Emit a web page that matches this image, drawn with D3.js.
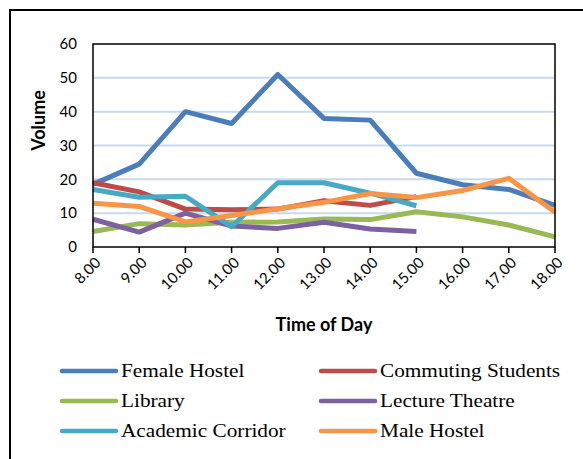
<!DOCTYPE html>
<html>
<head>
<meta charset="utf-8">
<script src="https://cdn.jsdelivr.net/npm/d3@7"></script>
<style>
  body { margin: 0; background: #fff; }
  svg { display: block; }
</style>
</head>
<body>
<div id="chart"></div>
<script>
const width = 583, height = 459;

const hours = ["8.00", "9.00", "10.00", "11.00", "12.00", "13.00", "14.00", "15.00", "16.00", "17.00", "18.00"];
const yTicks = [0, 10, 20, 30, 40, 50, 60];

const femaleHostel = [18.5, 24.5, 40, 36.5, 51, 38, 37.5, 21.8, 18.4, 17, 12.3];
const commuting = [19, 16.3, 11.2, 11, 11.2, 13.7, 12.3, 14.9];
const library = [4.6, 6.9, 6.5, 7.3, 7.4, 8.3, 8.1, 10.4, 8.9, 6.5, 3];
const lectureTheatre = [8.2, 4.4, 10, 6.2, 5.5, 7.3, 5.3, 4.6];
const academicCorridor = [17, 14.7, 15, 6, 19, 19, 15.9, 12.2];
const maleHostel = [12.9, 12, 7.4, 9.3, 11.3, 13.2, 15.8, 14.6, 16.7, 20.3, 10.3];

const series = [
  { name: "Female Hostel", values: femaleHostel, color: "#4a7ebb" },
  { name: "Commuting Students", values: commuting, color: "#be4b48" },
  { name: "Library", values: library, color: "#98b954" },
  { name: "Lecture Theatre", values: lectureTheatre, color: "#7d60a0" },
  { name: "Academic Corridor", values: academicCorridor, color: "#46aac5" },
  { name: "Male Hostel", values: maleHostel, color: "#f79646" }
];

const sans = "Lato, 'Open Sans', sans-serif";

const svg = d3.select("#chart")
  .append("svg")
  .attr("width", width)
  .attr("height", height);

// outer chart border (right and bottom run off the picture)
svg.append("path")
  .attr("d", "M10,470 L10,10 L600,10")
  .attr("fill", "none")
  .attr("stroke", "#000")
  .attr("stroke-width", 2);

const plot = { left: 93, right: 555, top: 44, bottom: 247 };

const x = d3.scalePoint()
  .domain(hours)
  .range([plot.left, plot.right]);

const y = d3.scaleLinear()
  .domain([0, 60])
  .range([plot.bottom, plot.top]);

// gridlines
svg.append("g")
  .selectAll("line")
  .data(yTicks.filter(d => d > 0 && d < 60))
  .join("line")
  .attr("x1", plot.left)
  .attr("x2", plot.right)
  .attr("y1", d => y(d))
  .attr("y2", d => y(d))
  .attr("stroke", "#c8daef")
  .attr("stroke-width", 2);

// lines
const line = d3.line()
  .x((d, i) => x(hours[i]))
  .y(d => y(d));

svg.append("g")
  .selectAll("path")
  .data(series)
  .join("path")
  .attr("d", d => line(d.values))
  .attr("fill", "none")
  .attr("stroke", d => d.color)
  .attr("stroke-width", 5)
  .attr("stroke-linejoin", "round");

// plot frame
svg.append("rect")
  .attr("x", plot.left)
  .attr("y", plot.top)
  .attr("width", plot.right - plot.left)
  .attr("height", plot.bottom - plot.top)
  .attr("fill", "none")
  .attr("stroke", "#000")
  .attr("stroke-width", 1.5);

// y axis labels
svg.append("g")
  .selectAll("text")
  .data(yTicks)
  .join("text")
  .attr("x", 77)
  .attr("y", d => y(d))
  .attr("dy", "0.35em")
  .attr("text-anchor", "end")
  .attr("font-family", sans)
  .attr("font-size", 15)
  .attr("fill", "#000")
  .text(d => d);

// x axis ticks
svg.append("g")
  .selectAll("line")
  .data(hours)
  .join("line")
  .attr("x1", d => x(d))
  .attr("x2", d => x(d))
  .attr("y1", plot.bottom)
  .attr("y2", plot.bottom + 6)
  .attr("stroke", "#000")
  .attr("stroke-width", 1.5);

svg.append("g")
  .selectAll("text")
  .data(hours)
  .join("text")
  .attr("transform", d => `translate(${x(d) + 5},${plot.bottom + 13}) rotate(-45)`)
  .attr("text-anchor", "end")
  .attr("dy", "0.35em")
  .attr("font-family", sans)
  .attr("font-size", 15)
  .attr("fill", "#000")
  .text(d => d);

// axis titles
svg.append("text")
  .attr("x", (plot.left + plot.right) / 2)
  .attr("y", 331)
  .attr("text-anchor", "middle")
  .attr("font-family", sans)
  .attr("font-weight", "bold")
  .attr("font-size", 18)
  .text("Time of Day");

svg.append("text")
  .attr("transform", `translate(45,${(plot.top + plot.bottom) / 2 - 25}) rotate(-90)`)
  .attr("text-anchor", "middle")
  .attr("font-family", sans)
  .attr("font-weight", "bold")
  .attr("font-size", 18)
  .text("Volume");

// legend
const legend = svg.append("g")
  .selectAll("g")
  .data(series)
  .join("g")
  .attr("transform", (d, i) => `translate(${i % 2 === 0 ? 62 : 321},${371 + Math.floor(i / 2) * 30})`);

legend.append("line")
  .attr("x1", 0)
  .attr("x2", 54)
  .attr("stroke", d => d.color)
  .attr("stroke-width", 4.5)
  .attr("stroke-linecap", "round");

legend.append("text")
  .attr("transform", "translate(59,0) scale(1.15,1)")
  .attr("dy", "0.35em")
  .attr("font-family", "'Liberation Serif', serif")
  .attr("font-size", 18.5)
  .attr("fill", "#000")
  .text(d => d.name);
</script>
</body>
</html>
